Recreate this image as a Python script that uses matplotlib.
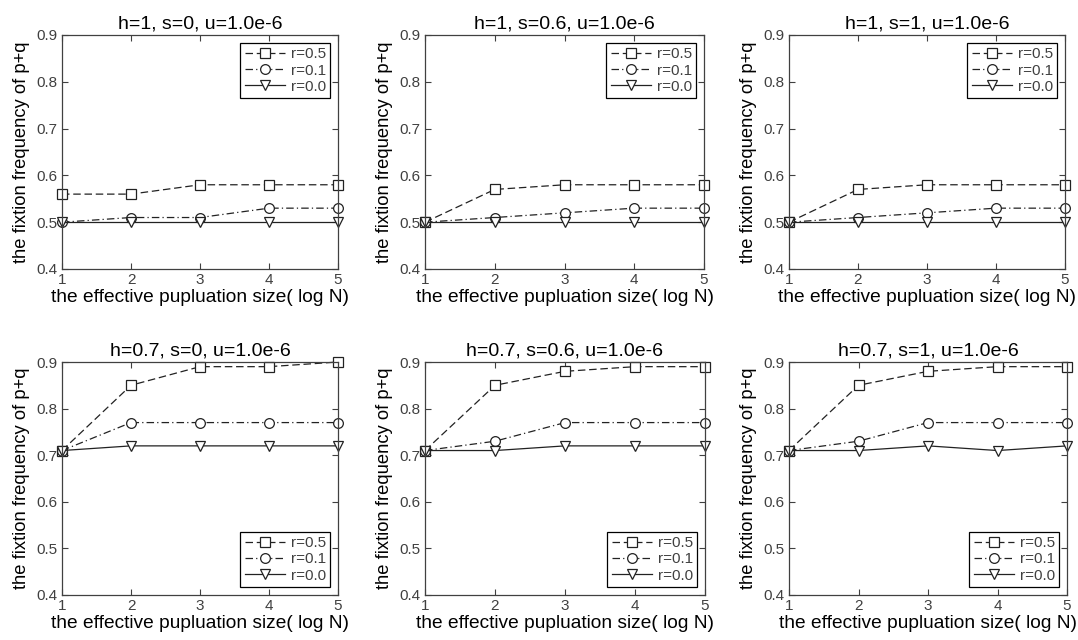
import matplotlib
matplotlib.use("Agg")
import matplotlib.pyplot as plt

plt.rcParams['font.family'] = ['Liberation Sans', 'DejaVu Sans']

x_vals = [1, 2, 3, 4, 5]
titles = ["h=1, s=0, u=1.0e-6", "h=1, s=0.6, u=1.0e-6", "h=1, s=1, u=1.0e-6",
          "h=0.7, s=0, u=1.0e-6", "h=0.7, s=0.6, u=1.0e-6", "h=0.7, s=1, u=1.0e-6"]
series_labels = ["r=0.5", "r=0.1", "r=0.0"]

p1_r05 = [0.56, 0.56, 0.58, 0.58, 0.58]
p1_r01 = [0.50, 0.51, 0.51, 0.53, 0.53]
p1_r00 = [0.50, 0.50, 0.50, 0.50, 0.50]

p2_r05 = [0.50, 0.57, 0.58, 0.58, 0.58]
p2_r01 = [0.50, 0.51, 0.52, 0.53, 0.53]
p2_r00 = [0.50, 0.50, 0.50, 0.50, 0.50]

p3_r05 = [0.50, 0.57, 0.58, 0.58, 0.58]
p3_r01 = [0.50, 0.51, 0.52, 0.53, 0.53]
p3_r00 = [0.50, 0.50, 0.50, 0.50, 0.50]

p4_r05 = [0.71, 0.85, 0.89, 0.89, 0.90]
p4_r01 = [0.71, 0.77, 0.77, 0.77, 0.77]
p4_r00 = [0.71, 0.72, 0.72, 0.72, 0.72]

p5_r05 = [0.71, 0.85, 0.88, 0.89, 0.89]
p5_r01 = [0.71, 0.73, 0.77, 0.77, 0.77]
p5_r00 = [0.71, 0.71, 0.72, 0.72, 0.72]

p6_r05 = [0.71, 0.85, 0.88, 0.89, 0.89]
p6_r01 = [0.71, 0.73, 0.77, 0.77, 0.77]
p6_r00 = [0.71, 0.71, 0.72, 0.71, 0.72]

panels = [
    (p1_r05, p1_r01, p1_r00),
    (p2_r05, p2_r01, p2_r00),
    (p3_r05, p3_r01, p3_r00),
    (p4_r05, p4_r01, p4_r00),
    (p5_r05, p5_r01, p5_r00),
    (p6_r05, p6_r01, p6_r00),
]

y_ticks = [0.4, 0.5, 0.6, 0.7, 0.8, 0.9]
y_ticklabels = ["0.4", "0.5", "0.6", "0.7", "0.8", "0.9"]

W, H = 1078, 640
fig = plt.figure(figsize=(W / 100, H / 100), dpi=100)

# pixel boxes: (left, right, top, bottom)
boxes = [
    (62, 338, 35, 269), (425, 704, 35, 269), (789, 1065, 35, 269),
    (62, 338, 362, 595), (425, 705, 362, 595), (789, 1067, 362, 595),
]

styles = [((0, (6, 3)), 's'), ((0, (6, 2.5, 1, 2.5)), 'o'), ('-', 'v')]
line_color = '#222222'

for i, (box, data) in enumerate(zip(boxes, panels)):
    l, r, t, b = box
    ax = fig.add_axes([l / W, 1 - b / H, (r - l) / W, (b - t) / H])
    for (ls, mk), ys, lab in zip(styles, data, series_labels):
        ax.plot(x_vals, ys, linestyle=ls, marker=mk, color=line_color,
                linewidth=0.9, markersize=7, markerfacecolor='white',
                markeredgecolor=line_color, markeredgewidth=0.9, label=lab,
                clip_on=False)
    ax.set_xlim(1, 5)
    ax.set_ylim(0.4, 0.9)
    ax.set_xticks(x_vals)
    ax.set_yticks(y_ticks)
    ax.set_yticklabels(y_ticklabels)
    ax.tick_params(direction='in', top=True, right=True, length=4,
                   labelsize=11, labelcolor='#404040', color='#404040', pad=3)
    for sp in ax.spines.values():
        sp.set_color('#404040')
        sp.set_linewidth(0.9)
    ax.set_title(titles[i], fontsize=14, pad=5)
    ax.set_xlabel("the effective pupluation size( log N)", fontsize=13.8, labelpad=1)
    ax.set_ylabel("the fixtion frequency of p+q", fontsize=13.2, labelpad=5)
    loc = 'upper right' if i < 3 else 'lower right'
    leg = ax.legend(loc=loc, fontsize=11, frameon=True, fancybox=False,
                    edgecolor='black', framealpha=1, handlelength=2.6,
                    borderpad=0.3, labelspacing=0.15, handletextpad=0.4,
                    borderaxespad=0.5, markerscale=1.0)
    leg.get_frame().set_linewidth(0.9)
    for txt in leg.get_texts():
        txt.set_color('#404040')

fig.savefig("out.png", dpi=100)
